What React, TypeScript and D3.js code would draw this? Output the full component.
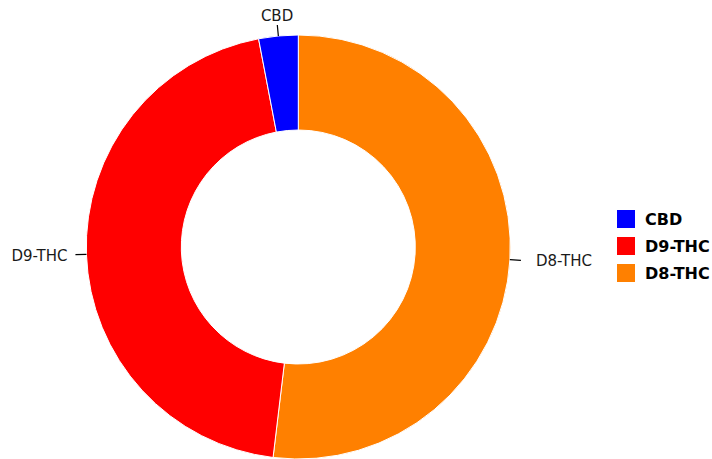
import React from 'react';
import * as d3 from 'd3';

// slice order as drawn clockwise from 12 o'clock
const categories = ['D8-THC', 'D9-THC', 'CBD'];
const shares = [51.9, 45.1, 3.0];
const sliceColors = ['#ff8000', '#ff0000', '#0000ff'];
// legend order
const legendOrder = ['CBD', 'D9-THC', 'D8-THC'];

const width = 712;
const height = 459;
const font = "'DejaVu Sans', Verdana, sans-serif";

export default function App() {
  const cx = 298.3;
  const cy = 247;
  const outer = 212;
  const inner = 117;

  const data = categories.map((c, i) => ({ label: c, value: shares[i], color: sliceColors[i] }));
  const pie = d3.pie<{ label: string; value: number; color: string }>()
    .value(d => d.value)
    .sort(null);
  const arcs = pie(data);
  const arcGen = d3.arc<d3.PieArcDatum<any>>()
    .innerRadius(inner)
    .outerRadius(outer);

  const colorOf = d3.scaleOrdinal<string, string>().domain(categories).range(sliceColors);

  return (
    <svg width={width} height={height} style={{ position: 'absolute', left: 0, top: 0, fontFamily: font }}>
      <g transform={`translate(${cx},${cy})`}>
        {arcs.map(a => (
          <path key={a.data.label} d={arcGen(a) || ''} fill={a.data.color} stroke="#fff" strokeWidth={1} />
        ))}
        {arcs.map(a => {
          const mid = (a.startAngle + a.endAngle) / 2;
          const sx = Math.sin(mid), sy = -Math.cos(mid);
          const r1 = outer, r2 = outer + 11, r3 = outer + 14;
          const tx = sx * r3, ty = sy * r3;
          let anchor = 'middle';
          if (sx > 0.3) anchor = 'start';
          else if (sx < -0.3) anchor = 'end';
          let dx = 0, dy = 0;
          if (anchor === 'start') dx = 12;
          if (anchor === 'end') dx = -5;
          if (anchor === 'middle') dy = -7;
          return (
            <g key={'l' + a.data.label}>
              <line x1={sx * r1} y1={sy * r1} x2={sx * r2} y2={sy * r2} stroke="#000" strokeWidth={1.2} />
              <text x={tx + dx} y={ty + dy + 1} textAnchor={anchor} dominantBaseline="central"
                style={{ fontFamily: font }} fontSize={15} fill="#1a1a1a">{a.data.label}</text>
            </g>
          );
        })}
      </g>
      <g transform="translate(617,210)">
        {legendOrder.map((l, i) => (
          <g key={l} transform={`translate(0,${i * 27})`}>
            <rect width={18} height={18} fill={colorOf(l)} />
            <text x={28} y={9.5} dominantBaseline="central" fontWeight="bold"
              style={{ fontFamily: font }} fontSize={16} fill="#000">{l}</text>
          </g>
        ))}
      </g>
    </svg>
  );
}
